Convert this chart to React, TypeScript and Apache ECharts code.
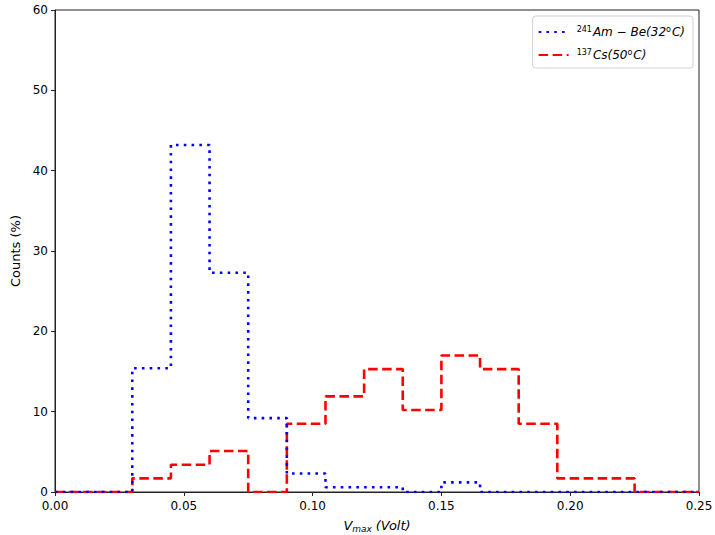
import React, { useEffect, useRef } from "react";
import * as echarts from "echarts";

const binEdges = [0, 0.015, 0.03, 0.045, 0.06, 0.075, 0.09, 0.105, 0.12, 0.135, 0.15, 0.165, 0.18, 0.195, 0.21, 0.225, 0.24];
const amBeCounts = [0, 0, 15.4, 43.2, 27.3, 9.2, 2.3, 0.6, 0.6, 0, 1.2, 0, 0, 0, 0, 0, 0];
const csCounts = [0, 0, 1.7, 3.4, 5.1, 0, 8.5, 11.9, 15.3, 10.2, 17.0, 15.3, 8.5, 1.7, 1.7, 0, 0];
const xEnd = 0.25;
const seriesNames = ["AmBe", "Cs"];

function stepData(vals: number[]) {
  const d: number[][] = binEdges.map((e, i) => [e, vals[i]]);
  d.push([xEnd, vals[vals.length - 1]]);
  return d;
}

export default function App() {
  const ref = useRef<HTMLDivElement>(null);
  useEffect(() => {
    const chart = echarts.init(ref.current!, null, { renderer: "svg" });
    const font = "DejaVu Sans";
    const axisColor = "#222";
    chart.setOption({
      animation: false,
      textStyle: { fontFamily: font },
      grid: {
        left: 55, top: 10, width: 644, height: 482,
        outerBoundsMode: "none", containLabel: false,
        show: true, borderColor: axisColor, borderWidth: 1, backgroundColor: "transparent",
      },
      legend: {
        right: 22,
        top: 16,
        orient: "vertical",
        backgroundColor: "#fff",
        borderColor: "#d0d0d0",
        borderWidth: 1,
        borderRadius: 3,
        padding: [9, 8, 7, 5],
        itemWidth: 30,
        itemHeight: 10,
        itemGap: 10,
        itemStyle: { opacity: 0 },
        data: seriesNames,
        formatter: (name: string) =>
          name === "AmBe"
            ? "{sup|241}{it|Am − Be(32}{sup|o}{it|C)}"
            : "{sup|137}{it|Cs(50}{sup|o}{it|C)}",
        textStyle: {
          fontFamily: font,
          color: "#000",
          padding: [0, 0, 0, 3],
          rich: {
            sup: { fontSize: 8, verticalAlign: "top", padding: [0, 1, 6, 0], fontFamily: font },
            it: { fontSize: 12, fontStyle: "italic", fontFamily: font },
          },
        },
      },
      xAxis: {
        type: "value",
        min: 0,
        max: 0.25,
        interval: 0.05,
        name: "{it|V}{sub|max} {it|(Volt)}",
        nameLocation: "middle",
        nameGap: 25,
        nameTextStyle: {
          color: "#000",
          rich: {
            it: { fontSize: 13, fontStyle: "italic", fontFamily: font },
            sub: { fontSize: 9, fontStyle: "italic", verticalAlign: "bottom", padding: [7, 0, 0, 0], fontFamily: font },
          },
        },
        axisLine: { show: true, lineStyle: { color: axisColor } },
        axisTick: { show: true, inside: false, length: 4, lineStyle: { color: axisColor } },
        axisLabel: { color: "#000", fontSize: 12, margin: 8, formatter: (v: number) => v.toFixed(2) },
        splitLine: { show: false },
      },
      yAxis: {
        type: "value",
        min: 0,
        max: 60,
        interval: 10,
        name: "Counts (%)",
        nameLocation: "middle",
        nameGap: 32,
        nameTextStyle: { color: "#000", fontSize: 13, fontFamily: font },
        axisLine: { show: true, lineStyle: { color: axisColor } },
        axisTick: { show: true, inside: false, length: 4, lineStyle: { color: axisColor } },
        axisLabel: { color: "#000", fontSize: 12, margin: 7 },
        splitLine: { show: false },
      },
      series: [
        {
          name: "AmBe",
          type: "line",
          step: "end",
          symbol: "none",
          data: stepData(amBeCounts),
          lineStyle: { color: "#0000ff", width: 2.6, type: [2.6, 5.2], cap: "butt" },
          itemStyle: { color: "#0000ff" },
          z: 3,
        },
        {
          name: "Cs",
          type: "line",
          step: "end",
          symbol: "none",
          data: stepData(csCounts),
          lineStyle: { color: "#ff0000", width: 2.6, type: [9.5, 4.5], cap: "butt" },
          itemStyle: { color: "#ff0000" },
          z: 2,
        },
      ],
    });
    return () => chart.dispose();
  }, []);
  return <div ref={ref} style={{ width: 715, height: 535, position: "absolute", left: 0, top: 0 }} />;
}
